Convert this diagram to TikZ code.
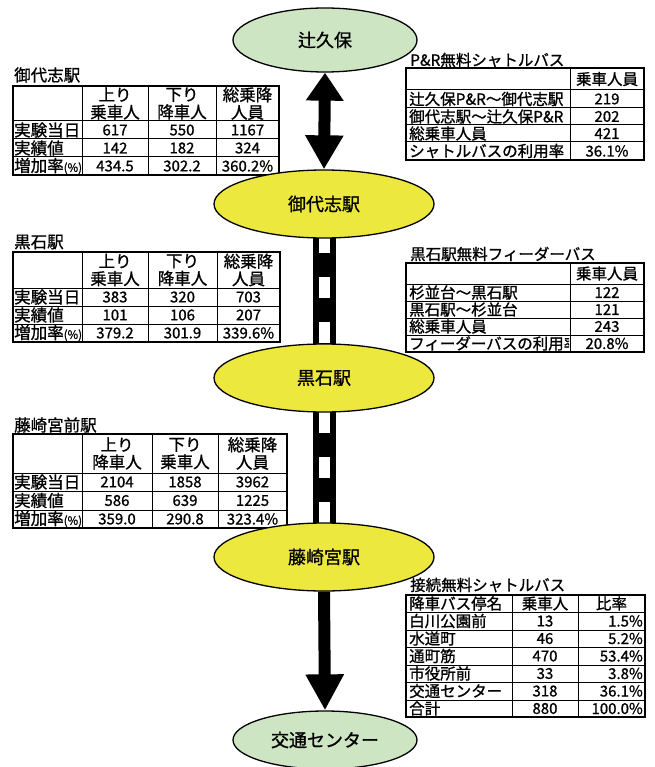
\documentclass[tikz,border=0pt]{standalone}
\usepackage{fontspec}
\setmainfont{Noto Sans CJK JP}[FakeBold=1]
\usetikzlibrary{shapes.geometric,arrows.meta,backgrounds}
\definecolor{stY}{RGB}{237,232,62}
\definecolor{stG}{RGB}{205,229,195}
\newcommand\myTab{\fontsize{16.5}{17.5}\selectfont}
\newcommand\myTabR{\fontsize{15.5}{17}\selectfont}
\newcommand\myNum{\fontsize{15}{16}\selectfont}
\newcommand\mySt{\fontsize{18}{19}\selectfont}
\newcommand\myPct{{\fontsize{11.5}{11.5}\selectfont(\%)}}
\begin{document}
\begin{tikzpicture}[x=1pt,y=-1pt,
  gridln/.style={line width=1pt},
  frameln/.style={line width=1.8pt},
  hd/.style={inner sep=0pt, align=center, font=\myTab},
  hdr/.style={inner sep=0pt, align=center, font=\myTabR},
  lab/.style={inner sep=0pt, anchor=west, font=\myTab},
  labr/.style={inner sep=0pt, anchor=west, font=\myTabR},
  ttl/.style={inner sep=0pt, anchor=west, font=\myTab},
  ttlr/.style={inner sep=0pt, anchor=west, font=\myTabR},
  num/.style={inner sep=0pt, font=\myNum},
  numr/.style={inner sep=0pt, anchor=east, font=\myNum},
  station/.style={ellipse, draw, line width=1.3pt, fill=stY, font=\mySt,
    inner sep=0pt, minimum width=220pt, minimum height=68pt},
  terminal/.style={station, fill=stG, minimum width=184pt, minimum height=64pt},
  track/.style={line width=23pt},
  sleeper/.style={white, line width=11pt, dash pattern=on 21pt off 24pt},
  bigarrow/.style={line width=12pt}
]
\useasboundingbox (0,0) rectangle (654,767);

% ---------- Table A : 御代志駅 ----------
\node[ttl] (a-t) at (14,75) {御代志駅};
\draw[gridln] (82,86) -- (82,175) (148,86) -- (148,175) (216,86) -- (216,175)
  (13,121) -- (279,121) (13,139) -- (279,139) (13,157) -- (279,157);
\draw[frameln] (13,86) rectangle (279,175);
\node[hd] (a-h1) at (115,103.5) {上り\\乗車人};
\node[hd] (a-h2) at (182,103.5) {下り\\降車人};
\node[hd] (a-h3) at (247.5,103.5) {総乗降\\人員};
\node[lab] (a-r1) at (14,130) {実験当日};
\node[lab] (a-r2) at (14,148) {実績値};
\node[lab] (a-r3) at (14,166) {増加率\myPct};
\node[num] (a-11) at (115,130) {617};
\node[num] (a-12) at (182,130) {550};
\node[num] (a-13) at (247.5,130) {1167};
\node[num] (a-21) at (115,148) {142};
\node[num] (a-22) at (182,148) {182};
\node[num] (a-23) at (247.5,148) {324};
\node[num] (a-31) at (115,166) {434.5};
\node[num] (a-32) at (182,166) {302.2};
\node[num] (a-33) at (247.5,166) {360.2\%};

% ---------- Table B : 黒石駅 ----------
\node[ttl] (b-t) at (14,242) {黒石駅};
\draw[gridln] (82,252) -- (82,342) (148,252) -- (148,342) (217,252) -- (217,342)
  (13,288) -- (280,288) (13,306) -- (280,306) (13,324) -- (280,324);
\draw[frameln] (13,252) rectangle (280,342);
\node[hd] (b-h1) at (115,270) {上り\\乗車人};
\node[hd] (b-h2) at (182.5,270) {下り\\降車人};
\node[hd] (b-h3) at (248.5,270) {総乗降\\人員};
\node[lab] (b-r1) at (14,297) {実験当日};
\node[lab] (b-r2) at (14,315) {実績値};
\node[lab] (b-r3) at (14,333) {増加率\myPct};
\node[num] (b-11) at (115,297) {383};
\node[num] (b-12) at (182.5,297) {320};
\node[num] (b-13) at (248.5,297) {703};
\node[num] (b-21) at (115,315) {101};
\node[num] (b-22) at (182.5,315) {106};
\node[num] (b-23) at (248.5,315) {207};
\node[num] (b-31) at (115,333) {379.2};
\node[num] (b-32) at (182.5,333) {301.9};
\node[num] (b-33) at (248.5,333) {339.6\%};

% ---------- Table C : 藤崎宮前駅 ----------
\node[ttl] (c-t) at (14,425) {藤崎宮前駅};
\draw[gridln] (82,434) -- (82,528) (152,434) -- (152,528) (218,434) -- (218,528)
  (13,473) -- (287,473) (13,491) -- (287,491) (13,510) -- (287,510);
\draw[frameln] (13,434) rectangle (287,528);
\node[hd] (c-h1) at (117,453.5) {上り\\降車人};
\node[hd] (c-h2) at (185,453.5) {下り\\乗車人};
\node[hd] (c-h3) at (252.5,453.5) {総乗降\\人員};
\node[lab] (c-r1) at (14,482) {実験当日};
\node[lab] (c-r2) at (14,500.5) {実績値};
\node[lab] (c-r3) at (14,519) {増加率\myPct};
\node[num] (c-11) at (117,482) {2104};
\node[num] (c-12) at (185,482) {1858};
\node[num] (c-13) at (252.5,482) {3962};
\node[num] (c-21) at (117,500.5) {586};
\node[num] (c-22) at (185,500.5) {639};
\node[num] (c-23) at (252.5,500.5) {1225};
\node[num] (c-31) at (117,519) {359.0};
\node[num] (c-32) at (185,519) {290.8};
\node[num] (c-33) at (252.5,519) {323.4\%};

% ---------- Table P : P&R無料シャトルバス ----------
\node[ttlr] (p-t) at (410,60) {P\&R無料シャトルバス};
\draw[gridln] (570,68) -- (570,160)
  (406,90) -- (644,90) (406,108) -- (644,108) (406,125) -- (644,125) (406,142) -- (644,142);
\draw[frameln] (406,68) rectangle (644,160);
\node[hdr] (p-h) at (607,79) {乗車人員};
\begin{scope}
  \clip (406,68) rectangle (569,160);
  \node[labr] (p-r1) at (409,99) {辻久保P\&R～御代志駅};
  \node[labr] (p-r2) at (409,116.5) {御代志駅～辻久保P\&R};
  \node[labr] (p-r3) at (409,133.5) {総乗車人員};
  \node[labr] (p-r4) at (409,151) {シャトルバスの利用率};
\end{scope}
\node[num] (p-1) at (607,99) {219};
\node[num] (p-2) at (607,116.5) {202};
\node[num] (p-3) at (607,133.5) {421};
\node[num] (p-4) at (607,151) {36.1\%};

% ---------- Table F : 黒石駅無料フィーダーバス ----------
\node[ttlr] (f-t) at (410,254) {黒石駅無料フィーダーバス};
\draw[gridln] (570,263) -- (570,352)
  (406,284) -- (644,284) (406,301) -- (644,301) (406,318) -- (644,318) (406,335) -- (644,335);
\draw[frameln] (406,263) rectangle (644,352);
\node[hdr] (f-h) at (607,273.5) {乗車人員};
\begin{scope}
  \clip (406,263) rectangle (569,352);
  \node[labr] (f-r1) at (409,292.5) {杉並台～黒石駅};
  \node[labr] (f-r2) at (409,309.5) {黒石駅～杉並台};
  \node[labr] (f-r3) at (409,326.5) {総乗車人員};
  \node[labr] (f-r4) at (409,343.5) {フィーダーバスの利用率};
\end{scope}
\node[num] (f-1) at (607,292.5) {122};
\node[num] (f-2) at (607,309.5) {121};
\node[num] (f-3) at (607,326.5) {243};
\node[num] (f-4) at (607,343.5) {20.8\%};

% ---------- Table S : 接続無料シャトルバス ----------
\node[ttlr] (s-t) at (410,585) {接続無料シャトルバス};
\draw[gridln] (512,595) -- (512,717) (578,595) -- (578,717)
  (406,612) -- (645,612) (406,630) -- (645,630) (406,647) -- (645,647)
  (406,665) -- (645,665) (406,682) -- (645,682) (406,700) -- (645,700);
\draw[frameln] (406,595) rectangle (645,717);
\node[labr] (s-h1) at (409,603.5) {降車バス停名};
\node[hdr] (s-h2) at (545,603.5) {乗車人};
\node[hdr] (s-h3) at (611.5,603.5) {比率};
\node[labr] (s-r1) at (409,621) {白川公園前};
\node[labr] (s-r2) at (409,638.5) {水道町};
\node[labr] (s-r3) at (409,656) {通町筋};
\node[labr] (s-r4) at (409,673.5) {市役所前};
\node[labr] (s-r5) at (409,691) {交通センター};
\node[labr] (s-r6) at (409,708.5) {合計};
\node[num] (s-11) at (545,621) {13};
\node[num] (s-21) at (545,638.5) {46};
\node[num] (s-31) at (545,656) {470};
\node[num] (s-41) at (545,673.5) {33};
\node[num] (s-51) at (545,691) {318};
\node[num] (s-61) at (545,708.5) {880};
\node[numr] (s-12) at (643,621) {1.5\%};
\node[numr] (s-22) at (643,638.5) {5.2\%};
\node[numr] (s-32) at (643,656) {53.4\%};
\node[numr] (s-42) at (643,673.5) {3.8\%};
\node[numr] (s-52) at (643,691) {36.1\%};
\node[numr] (s-62) at (643,708.5) {100.0\%};

% ---------- Stations ----------
\node[terminal] (tsuku) at (325,40) {辻久保};
\node[station] (goshi) at (324,204) {御代志駅};
\node[station] (kuro) at (324,378) {黒石駅};
\node[station] (fuji) at (324,557) {藤崎宮駅};
\node[terminal, minimum height=58pt] (kotsu) at (325,740) {交通センター};

% ---------- Railway track (behind stations) ----------
\begin{scope}[on background layer]
  \draw[track] (goshi.center) -- (kuro.center);
  \draw[sleeper, dash phase=17pt] (goshi.center) -- (kuro.center);
  \draw[track] (kuro.center) -- (fuji.center);
  \draw[sleeper, dash phase=11pt] (kuro.center) -- (fuji.center);
\end{scope}

% ---------- Arrows ----------
\draw[bigarrow, {Triangle[width=36pt,length=28pt]}-{Triangle[width=36pt,length=34pt]}]
  (tsuku.south) -- (goshi.north);
\draw[bigarrow, -{Triangle[width=36pt,length=36pt]}] (fuji.south) -- (kotsu.north);
\end{tikzpicture}
\end{document}
